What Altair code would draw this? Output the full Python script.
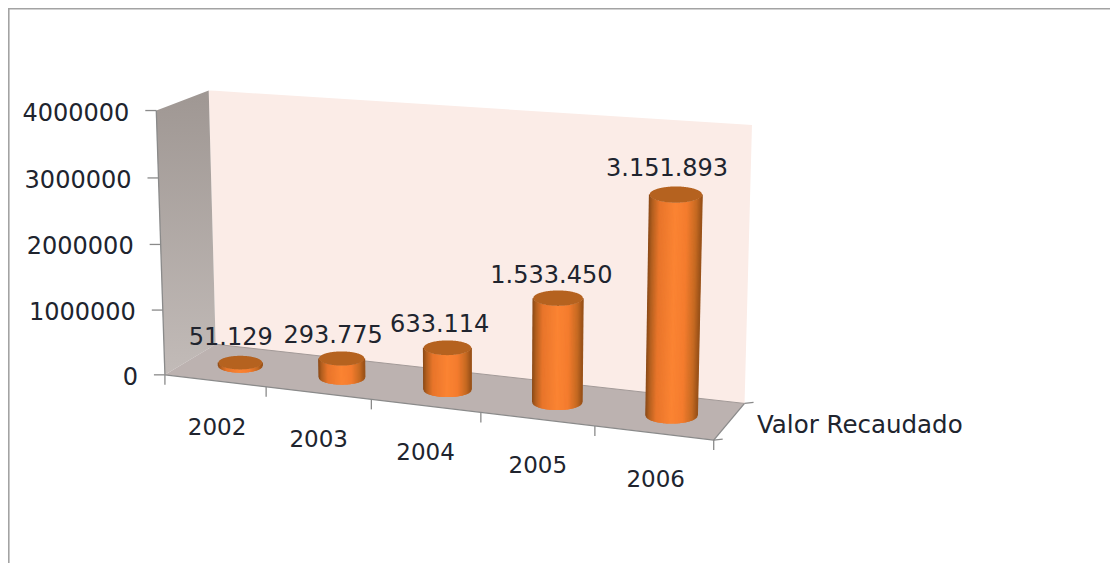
import numpy as np
import pandas as pd
import altair as alt

years = ["2002", "2003", "2004", "2005", "2006"]
values = [51129, 293775, 633114, 1533450, 3151893]
value_labels = ["51.129", "293.775", "633.114", "1.533.450", "3.151.893"]
axis_ticks = [0, 1000000, 2000000, 3000000, 4000000]
series_name = "Valor Recaudado"

# ---- layout: 3D box of the plot (u along years, v depth, h value share) ----
AXIS_MAX = 4000000
FONT = "DejaVu Sans"
INK = "#20242e"
correspondences = [
    ((0, 0, 0), (167, 375)), ((1, 0, 0), (715, 440)), ((0, 1, 0), (215, 345)),
    ((1, 1, 0), (746, 400)), ((0, 0, 1), (157, 108)), ((0, 1, 1), (208, 91)),
    ((1, 1, 1), (752, 127)), ((.2, 0, 0), (266, 387)), ((.4, 0, 0), (371, 400)),
    ((.6, 0, 0), (479, 413)), ((.8, 0, 0), (593, 427)),
]
rows = []
for (a, b, c), (px, py) in correspondences:
    rows.append([a, b, c, 1, 0, 0, 0, 0, -px * a, -px * b, -px * c, -px])
    rows.append([0, 0, 0, 0, a, b, c, 1, -py * a, -py * b, -py * c, -py])
P = np.linalg.svd(np.array(rows, float))[2][-1].reshape(3, 4)


def proj(u, v, h):
    q = P @ np.array([u, v, h, 1.0])
    return q[0] / q[2], q[1] / q[2]


def polygon(points, name):
    """Convex polygon -> rows of an area mark (x, upper y, lower y)."""
    pts = points + [points[0]]
    xs = sorted({round(p[0], 2) for p in points})
    out = []
    for x in xs:
        ys = []
        for (x0, y0), (x1, y1) in zip(pts, pts[1:]):
            if min(x0, x1) - .011 <= x <= max(x0, x1) + .011:
                if abs(x1 - x0) < 1e-6:
                    ys += [y0, y1]
                else:
                    ys.append(y0 + (y1 - y0) * (x - x0) / (x1 - x0))
        out.append({"x": x, "y": min(ys), "y2": max(ys), "g": name})
    return pd.DataFrame(out)


X = alt.X("x:Q", axis=None, scale=alt.Scale(domain=[8, 1110], nice=False, zero=False))
Y = alt.Y("y:Q", axis=None, scale=alt.Scale(domain=[563, 8], nice=False, zero=False))


def area(df, fill):
    return alt.Chart(df).mark_area(color=fill, orient="vertical", opacity=1).encode(
        x=X, y=Y, y2=alt.Y2("y2:Q"), detail="g:N")


def rules(df, width):
    return alt.Chart(df).mark_rule(strokeWidth=width).encode(
        x=X, y=Y, x2=alt.X2("x2:Q"), y2=alt.Y2("y2:Q"),
        color=alt.Color("c:N", scale=None, legend=None))


def segs(pairs, color):
    return pd.DataFrame([{"x": a[0], "y": a[1], "x2": b[0], "y2": b[1], "c": color} for a, b in pairs])


def lerp_color(t, stops):
    for (t0, c0), (t1, c1) in zip(stops, stops[1:]):
        if t <= t1:
            f = (t - t0) / (t1 - t0)
            a = [int(c0[i:i + 2], 16) for i in (1, 3, 5)]
            b = [int(c1[i:i + 2], 16) for i in (1, 3, 5)]
            return "#%02x%02x%02x" % tuple(round(p + (q - p) * f) for p, q in zip(a, b))
    return stops[-1][1]


layers = []

# frame
layers.append(rules(segs([((8.5, 8), (8.5, 563)), ((8, 8.5), (1110, 8.5))], "#a3a3a3"), 2.2))

# walls and floor
layers.append(area(polygon([proj(0, 1, 1), proj(1, 1, 1), proj(1, 1, 0), proj(0, 1, 0)], "back"), "#fbece7"))
layers.append(area(
    polygon([proj(0, 0, 1), proj(0, 1, 1), proj(0, 1, 0), proj(0, 0, 0)], "left"),
    alt.Gradient(gradient="linear", x1=0, x2=0, y1=0, y2=1,
                 stops=[alt.GradientStop(color="#9f9793", offset=0),
                        alt.GradientStop(color="#c2bbb8", offset=1)])))
layers.append(area(polygon([proj(0, 0, 0), proj(1, 0, 0), proj(1, 1, 0), proj(0, 1, 0)], "floor"), "#bcb2b0"))

# axis lines and ticks
AXC = "#8a8a8a"
axis_pairs = [(proj(0, 0, 1), proj(0, 0, 0)), (proj(0, 0, 0), proj(1, 0, 0)), (proj(1, 0, 0), proj(1, 1, 0))]
for t in axis_ticks:
    a = proj(0, 0, t / AXIS_MAX)
    axis_pairs.append(((a[0] - 11, a[1]), a))
for i in range(len(years) + 1):
    a = proj(i / len(years), 0, 0)
    axis_pairs.append((a, (a[0], a[1] + 10)))
for v in (0, 1):
    a = proj(1, v, 0)
    axis_pairs.append((a, (a[0] + 9, a[1] - 1)))
layers.append(rules(segs(axis_pairs, AXC), 1.3))
layers.append(rules(segs([(proj(0, 1, 0), proj(1, 1, 0))], "#a39a98"), 1))

# cylinders
BODY = [(0, "#8c4a18"), (.07, "#b4601f"), (.2, "#e8752b"), (.5, "#fb8433"),
        (.72, "#f47c2e"), (.9, "#c66a22"), (1, "#9a5219")]
TOPC = "#b5621f"
RU, VC, UO = .044, .475, .003
for i, val in enumerate(values):
    uc = (i + .5) / len(years) + UO
    h = val / AXIS_MAX
    xb, yb = proj(uc, VC, 0)
    xt, yt = proj(uc, VC, h)
    hwb = (proj(uc + RU, VC, 0)[0] - proj(uc - RU, VC, 0)[0]) / 2
    hwt = (proj(uc + RU, VC, h)[0] - proj(uc - RU, VC, h)[0]) / 2
    hhb, hht = hwb * .31, hwt * .31
    body = []
    for t in np.linspace(0, 1, 90):
        c = 2 * t - 1
        s = np.sqrt(max(0, 1 - c * c))
        body.append({"x": xb + hwb * c, "y": yb + hhb * s,
                     "x2": xt + hwt * c, "y2": yt + hht * s, "c": lerp_color(t, BODY)})
    layers.append(rules(pd.DataFrame(body), 1.4))
    top = []
    for c in np.linspace(-1, 1, 81):
        s = np.sqrt(max(0, 1 - c * c))
        top.append({"x": xt + hwt * c, "y": yt - hht * s, "y2": yt + hht * s, "g": f"t{i}"})
    layers.append(area(pd.DataFrame(top), TOPC))


def text(df, align="center", size=24.0):
    return alt.Chart(df).mark_text(font=FONT, fontSize=size, color=INK, align=align, baseline="middle").encode(
        x=X, y=Y, text="t:N")


# value labels, placed above each cylinder top
label_nudges = [(-9, -24), (-8, -22), (-7, -23), (-6, -22), (-8, -25)]
lab = []
for i, (val, s) in enumerate(zip(values, value_labels)):
    xt, yt = proj((i + .5) / len(years), VC, val / AXIS_MAX)
    lab.append({"x": xt + label_nudges[i][0] + 1, "y": yt + label_nudges[i][1], "t": s})
layers.append(text(pd.DataFrame(lab)))

# value axis labels
lab = []
for t in axis_ticks:
    a = proj(0, 0, t / AXIS_MAX)
    lab.append({"x": a[0] - 27, "y": a[1] + 3, "t": str(t)})
layers.append(text(pd.DataFrame(lab), align="right"))

# category labels
category_nudges = [2, .5, 0, .5, 2]
lab = []
for i, y in enumerate(years):
    a = proj((i + .5) / len(years), 0, 0)
    lab.append({"x": a[0] + category_nudges[i], "y": a[1] + 47, "t": y})
layers.append(text(pd.DataFrame(lab), size=23))

# series label
layers.append(text(pd.DataFrame([{"x": 757, "y": 426, "t": series_name}]), align="left", size=24.5))

chart = alt.layer(*layers).properties(
    width=1102, height=555, padding=0, autosize=alt.AutoSizeParams(type="none"),
    background="white",
).configure_view(stroke=None)

chart.save("out.html", embed_options={"renderer": "svg", "actions": False})
